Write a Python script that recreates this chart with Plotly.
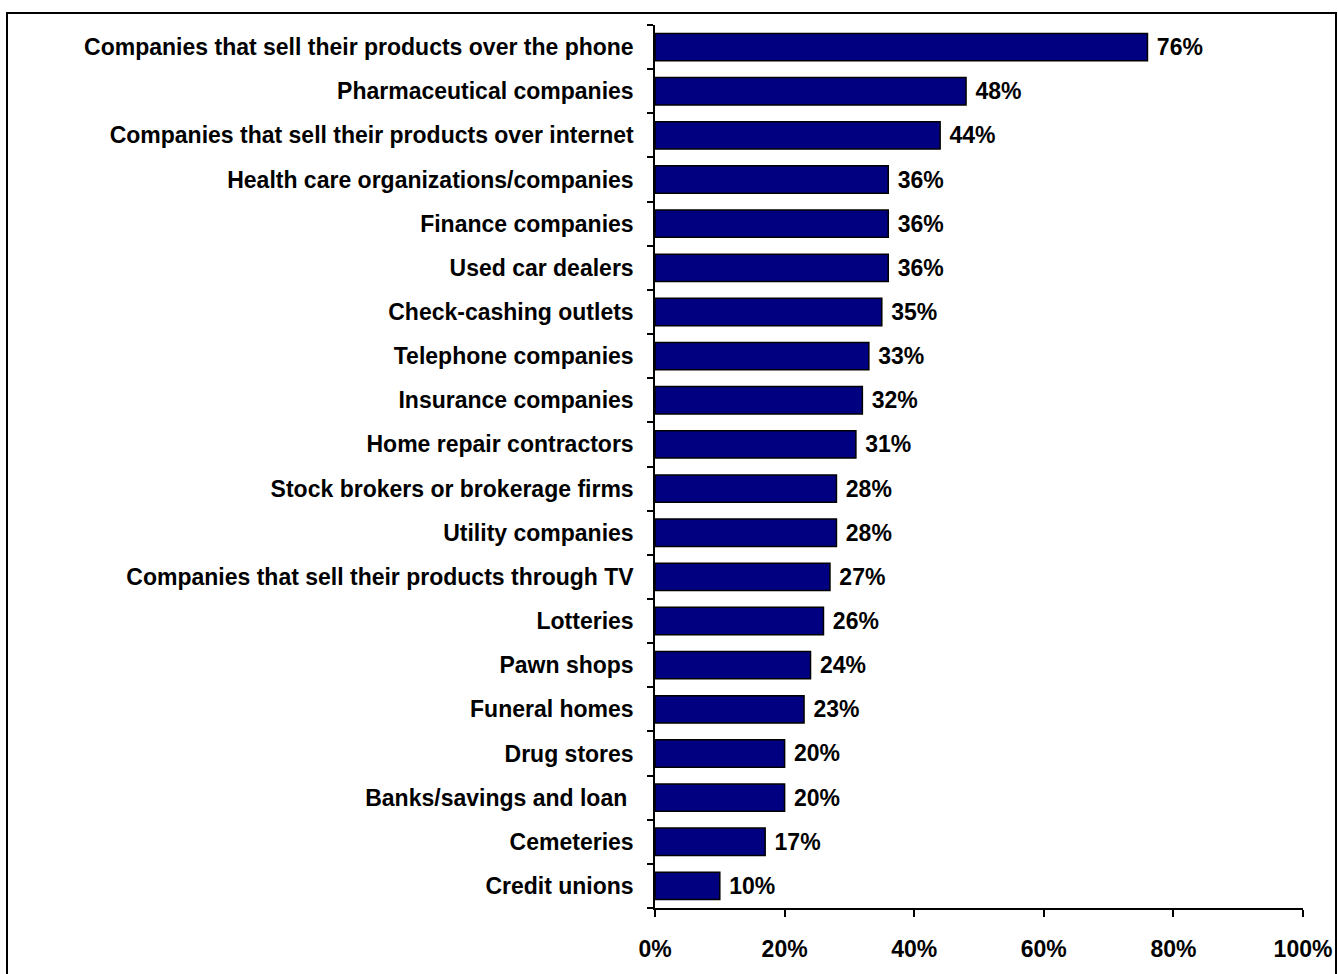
import plotly.graph_objects as go

categories = [
    "Companies that sell their products over the phone",
    "Pharmaceutical companies",
    "Companies that sell their products over internet",
    "Health care organizations/companies",
    "Finance companies",
    "Used car dealers",
    "Check-cashing outlets",
    "Telephone companies",
    "Insurance companies",
    "Home repair contractors",
    "Stock brokers or brokerage firms",
    "Utility companies",
    "Companies that sell their products through TV",
    "Lotteries",
    "Pawn shops",
    "Funeral homes",
    "Drug stores",
    "Banks/savings and loan ",
    "Cemeteries",
    "Credit unions",
]
values = [76, 48, 44, 36, 36, 36, 35, 33, 32, 31, 28, 28, 27, 26, 24, 23, 20, 20, 17, 10]
x_ticks = [0, 20, 40, 60, 80, 100]
x_tick_labels = ["0%", "20%", "40%", "60%", "80%", "100%"]

FONT = "Liberation Sans, Arial, sans-serif"

fig = go.Figure(
    go.Bar(
        x=values,
        y=categories,
        orientation="h",
        marker=dict(color="#000080", line=dict(color="#000000", width=1.5)),
        text=[f"<b> {v}%</b>" for v in values],
        textposition="outside",
        textfont=dict(family=FONT, size=23, color="#000000"),
        constraintext="none",
        cliponaxis=False,
        width=0.62,
    )
)

fig.update_layout(
    width=1338,
    height=974,
    margin=dict(l=655, r=35, t=25, b=66, autoexpand=False),
    paper_bgcolor="white",
    plot_bgcolor="white",
    showlegend=False,
    font=dict(family=FONT, size=23, color="#000000"),
    xaxis=dict(
        range=[0, 100],
        automargin=False,
        tickvals=x_ticks,
        ticktext=[f"<b>{t}</b>" for t in x_tick_labels],
        ticks="outside",
        ticklen=7,
        tickwidth=1.5,
        tickcolor="#000000",
        showline=True,
        linecolor="#000000",
        linewidth=1.5,
        showgrid=False,
        zeroline=False,
        ticklabelstandoff=13,
        tickfont=dict(family=FONT, size=23, color="#000000"),
    ),
    yaxis=dict(
        type="category",
        automargin=False,
        categoryorder="array",
        categoryarray=categories,
        autorange="reversed",
        tickmode="array",
        tickvals=categories,
        ticktext=[f"<b>{c}</b>" for c in categories],
        ticks="outside",
        tickson="boundaries",
        ticklen=6,
        tickwidth=1.5,
        tickcolor="#000000",
        showline=True,
        linecolor="#000000",
        linewidth=1.5,
        showgrid=False,
        ticklabelstandoff=15,
        tickfont=dict(family=FONT, size=23, color="#000000"),
    ),
)

# Frame around the whole chart
fig.add_shape(
    type="rect",
    xref="paper",
    yref="paper",
    x0=(7 - 655) / 648,
    x1=(1336 - 655) / 648,
    y0=-0.1,
    y1=(908 - 13) / 883,
    line=dict(color="#000000", width=2),
    fillcolor="rgba(0,0,0,0)",
    layer="below",
)

fig.write_html("out.html")
